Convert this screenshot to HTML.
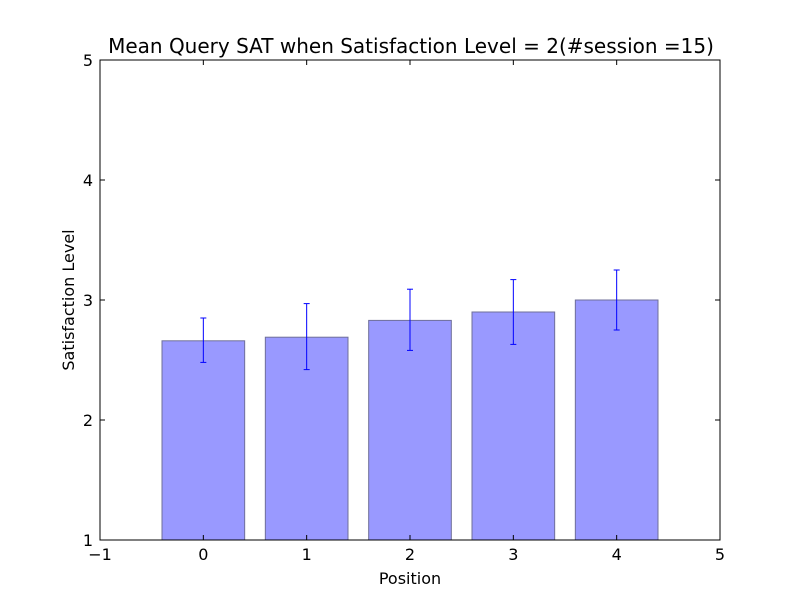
<!DOCTYPE html>
<html><head><meta charset="utf-8"><style>
body{margin:0;background:#fff;}
svg text{font-family:"DejaVu Sans","Liberation Sans",sans-serif;fill:#000;}
</style></head><body>
<svg id="chart" width="800" height="600" xmlns="http://www.w3.org/2000/svg">
<rect width="800" height="600" fill="#fff"/>
<g id="bars"></g>
<g id="errs"></g>
<rect x="100" y="60" width="620" height="480" fill="none" stroke="#000" stroke-width="1"/>
<g id="ticks"></g>
<text x="411" y="53" font-size="20" text-anchor="middle">Mean Query SAT when Satisfaction Level = 2(#session =15)</text>
<text x="410" y="584" font-size="16" text-anchor="middle">Position</text>
<text transform="translate(74,300) rotate(-90)" font-size="16" text-anchor="middle">Satisfaction Level</text>
</svg>
<script>
const categories=[0,1,2,3,4];
const values=[2.66,2.69,2.83,2.9,3.0];
const errLow=[2.48,2.42,2.58,2.63,2.75];
const errHigh=[2.85,2.97,3.09,3.17,3.25];
const xTicks=[-1,0,1,2,3,4,5];
const yTicks=[1,2,3,4,5];
const NS="http://www.w3.org/2000/svg";
const X=v=>100+(v+1)*620/6;
const Y=v=>540-(v-1)*480/4;
function mk(t,a,p){const e=document.createElementNS(NS,t);for(const k in a)e.setAttribute(k,a[k]);p.appendChild(e);return e;}
const bg=document.getElementById('bars'),eg=document.getElementById('errs'),tg=document.getElementById('ticks');
categories.forEach((c,i)=>{
 const r=mk('rect',{x:X(c-0.4),y:Y(values[i]),width:X(c+0.4)-X(c-0.4),height:Y(1)-Y(values[i]),fill:'#9999ff',stroke:'#6f6f9a','stroke-width':1},bg);
 
 
 const g=mk('g',{stroke:'#0000ff','stroke-width':1},eg);
 
 
 mk('line',{x1:X(c),x2:X(c),y1:Y(errLow[i]),y2:Y(errHigh[i])},g);
 mk('line',{x1:X(c)-3,x2:X(c)+3,y1:Y(errLow[i]),y2:Y(errLow[i])},g);
 mk('line',{x1:X(c)-3,x2:X(c)+3,y1:Y(errHigh[i]),y2:Y(errHigh[i])},g);
});
xTicks.forEach(t=>{
 mk('line',{x1:X(t),x2:X(t),y1:540,y2:535,stroke:'#000'},tg);
 mk('line',{x1:X(t),x2:X(t),y1:60,y2:65,stroke:'#000'},tg);
 const tx=mk('text',{x:X(t),y:560,'font-size':16,'text-anchor':'middle'},tg);
 tx.textContent=t<0?'\u2212'+(-t):t;
 
 
});
yTicks.forEach(t=>{
 mk('line',{x1:100,x2:105,y1:Y(t),y2:Y(t),stroke:'#000'},tg);
 mk('line',{x1:720,x2:715,y1:Y(t),y2:Y(t),stroke:'#000'},tg);
 const tx=mk('text',{x:93,y:Y(t)+6,'font-size':16,'text-anchor':'end'},tg);
 tx.textContent=t;
 
 
});
</script>
</body></html>
